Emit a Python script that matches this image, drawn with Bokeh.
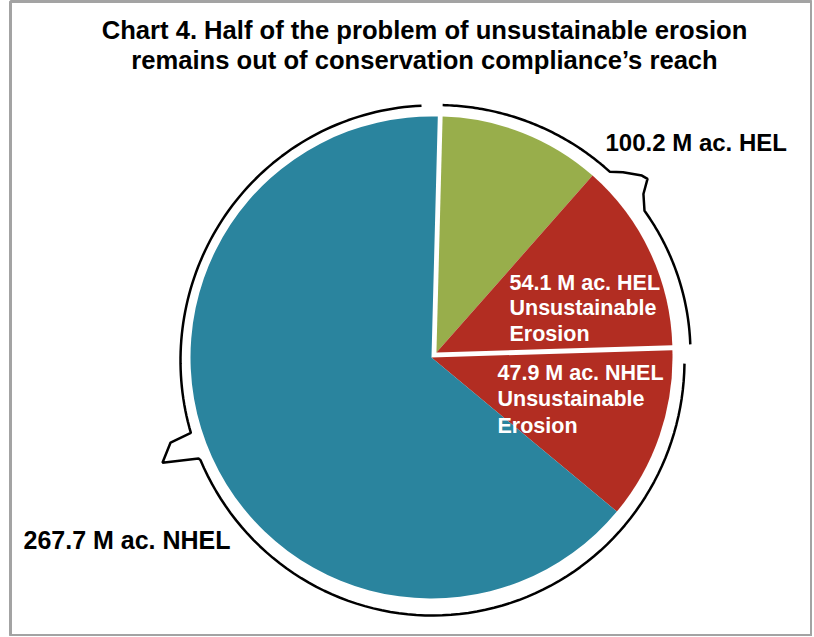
import math
import numpy as np
from bokeh.plotting import figure
from bokeh.models import Range1d, ColumnDataSource
from bokeh.core.properties import value
from bokeh.embed import file_html
from bokeh.resources import INLINE

# ---------------- data ----------------
title_lines = ["Chart 4. Half of the problem of unsustainable erosion",
               "remains out of conservation compliance\u2019s reach"]
slice_names = ["HEL sustainable", "HEL unsustainable erosion",
               "NHEL unsustainable erosion", "NHEL"]
slice_values = [46.1, 54.1, 47.9, 267.7]          # million acres, as drawn
slice_groups = ["HEL", "HEL", "NHEL", "NHEL"]
slice_colors = ["#98AE4B", "#B22D22", "#B22D22", "#2A849E"]
group_label_hel = "100.2 M ac. HEL"
group_label_nhel = "267.7 M ac. NHEL"
inner_label_hel = ["54.1 M ac. HEL", "Unsustainable", "Erosion"]
inner_label_nhel = ["47.9 M ac. NHEL", "Unsustainable", "Erosion"]

FONT = value("Liberation Sans")

# ---------------- figure (data units = page pixels, y up = -page_y) ----------------
W, H = 812, 636
LB, TB, BB = 10, 1, 1
p = figure(width=W, height=H, x_range=Range1d(LB, W), y_range=Range1d(-(H - BB), -TB),
           x_axis_type=None, y_axis_type=None, toolbar_location=None,
           output_backend="svg", min_border_left=LB, min_border_right=0,
           min_border_top=TB, min_border_bottom=BB,
           background_fill_color="white", border_fill_color="white")
p.grid.visible = False
p.outline_line_color = "#a3a3a3"
p.outline_line_width = 3

# ---------------- pie ----------------
START = 88.5
total = sum(slice_values)
base_c = (431.0, 357.0)
R_NHEL, R_HEL = 241, 236
hel_share = sum(v for v, g in zip(slice_values, slice_groups) if g == "HEL") / total
hel_mid = math.radians(START - hel_share * 360 / 2)
EXPLODE = 7
hel_c = (base_c[0] + EXPLODE * math.cos(hel_mid), base_c[1] - EXPLODE * math.sin(hel_mid))

xs, ys, rs, sa, ea, cols = [], [], [], [], [], []
cum = 0.0
for v, g, c in zip(slice_values, slice_groups, slice_colors):
    a_end = START - cum / total * 360
    a_start = START - (cum + v) / total * 360
    cum += v
    cx, cy = hel_c if g == "HEL" else base_c
    xs.append(cx); ys.append(-cy)
    rs.append(R_HEL if g == "HEL" else R_NHEL)
    sa.append(math.radians(a_start)); ea.append(math.radians(a_end))
    cols.append(c)

src = ColumnDataSource(dict(x=xs, y=ys, r=rs, sa=sa, ea=ea, color=cols, name=slice_names))
p.wedge(x="x", y="y", radius="r", start_angle="sa", end_angle="ea",
        fill_color="color", line_color=None, source=src)

# ---------------- bracket outlines with callout tails ----------------
def ell(cx, cy, rx, ry, ang_deg, k=1.0):
    a = np.radians(ang_deg)
    return cx + k * rx * np.cos(a), -(cy - k * ry * np.sin(a))

def outline(cx, cy, rx, ry, segs):
    X, Y = [], []
    for seg in segs:
        if seg[0] == "arc":
            angs = np.linspace(seg[1], seg[2], 80)
            x, y = ell(cx, cy, rx, ry, angs)
            X += list(x); Y += list(y)
        else:
            x, y = ell(cx, cy, rx, ry, seg[1], seg[2])
            X.append(float(x)); Y.append(float(y))
    return X, Y

# HEL bracket
hx, hy = outline(hel_c[0], hel_c[1] + 0.5, 254, 248, [
    ("arc", 88.6, 47.0),
    ("pt", 44.8, 1.035),
    ("pt", 41.5, 1.080),
    ("pt", 40.2, 1.088),
    ("pt", 38.2, 1.037),
    ("arc", 35.0, 2.0),
])
p.line(hx, hy, line_color="black", line_width=2.5)

# NHEL bracket
nx, ny = outline(432, 360, 252, 255, [
    ("arc", 92.5, 196.5),
    ("pt", 197.2, 1.088),
    ("pt", 200.5, 1.144),
    ("pt", 202.5, 1.005),
    ("arc", 203.0, 359.3),
])
p.line(nx, ny, line_color="black", line_width=2.5)

# ---------------- texts ----------------
DY = 8
p.text(x=[424, 424], y=[-37 + DY, -67 + DY], text=title_lines, text_font=FONT,
       text_font_style="bold", text_font_size="25.6px", text_align="center",
       text_baseline="alphabetic", text_color="black")

p.text(x=[605], y=[-150 + DY], text=[group_label_hel], text_font=FONT,
       text_font_style="bold", text_font_size="24px", text_align="left",
       text_baseline="alphabetic", text_color="black")
p.text(x=[23], y=[-547 + DY], text=[group_label_nhel], text_font=FONT,
       text_font_style="bold", text_font_size="25px", text_align="left",
       text_baseline="alphabetic", text_color="black")

p.text(x=[509] * 3, y=[-290 + DY, -315.5 + DY, -341 + DY], text=inner_label_hel, text_font=FONT,
       text_font_style="bold", text_font_size="21.5px", text_align="left",
       text_baseline="alphabetic", text_color="white")
p.text(x=[497] * 3, y=[-380 + DY, -406.5 + DY, -433 + DY], text=inner_label_nhel, text_font=FONT,
       text_font_style="bold", text_font_size="21.5px", text_align="left",
       text_baseline="alphabetic", text_color="white")

open("out.html", "w").write(file_html(p, INLINE))
